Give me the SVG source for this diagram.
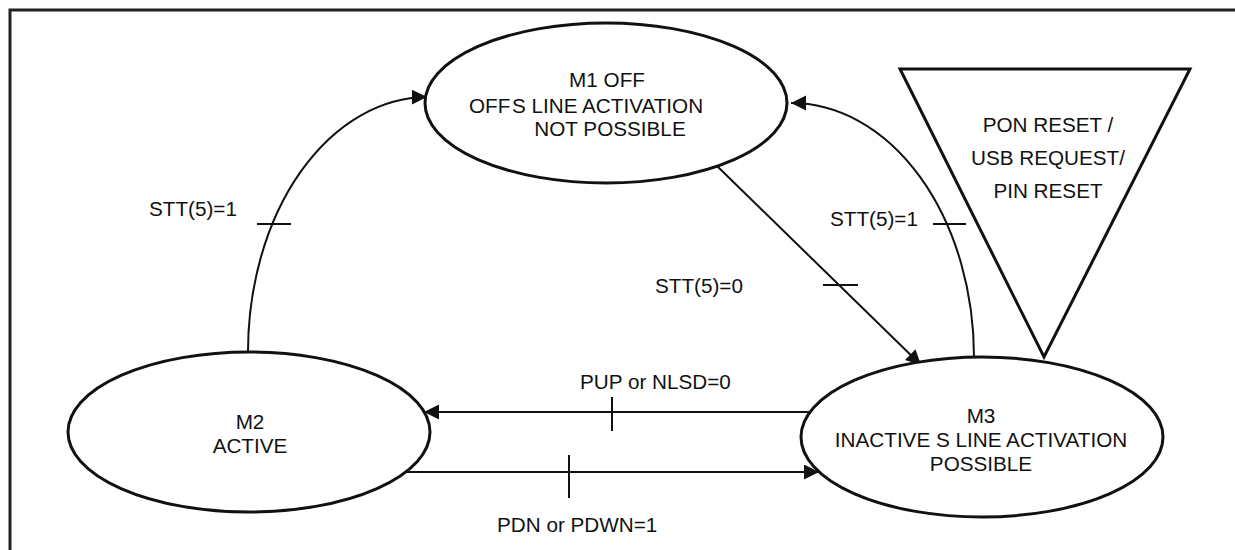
<svg xmlns="http://www.w3.org/2000/svg" width="1235" height="550" viewBox="0 0 1235 550">
<style>
.node{fill:#fff;stroke:#111;stroke-width:3}
.conn{fill:none;stroke:#111;stroke-width:2}
.tick{stroke:#111;stroke-width:2}
text{font-family:"Liberation Sans",Arial,sans-serif;font-size:20.7px;fill:#111}
.c{text-anchor:middle}
</style>
<defs>
<marker id="arr" markerUnits="userSpaceOnUse" markerWidth="16" markerHeight="16" refX="15" refY="7.5" orient="auto">
<path d="M0,0 L15,7.5 L0,15 z" fill="#111"/>
</marker>
</defs>
<rect width="1235" height="550" fill="#fff"/>
<path d="M10,550 V10 H1235" fill="none" stroke="#222" stroke-width="3"/>

<g id="connectors">
<path class="conn" d="M248,352 A180,255 0 0 1 427,97" marker-end="url(#arr)"/>
<line class="tick" x1="257" y1="224" x2="291" y2="224"/>
<text x="149" y="216">STT(5)=1</text>

<path class="conn" d="M717,166 L921,365" marker-end="url(#arr)"/>
<line class="tick" x1="823" y1="285" x2="858" y2="285"/>
<text x="655" y="293">STT(5)=0</text>

<path class="conn" d="M974,357 A183,254 0 0 0 791,103" marker-end="url(#arr)"/>
<line class="tick" x1="933" y1="224" x2="966" y2="224"/>
<text x="830" y="226">STT(5)=1</text>

<path class="conn" d="M809,412 L424,412" marker-end="url(#arr)"/>
<line class="tick" x1="612" y1="397" x2="612" y2="431"/>
<text x="580" y="389">PUP or NLSD=0</text>

<path class="conn" d="M406,472 L819,472" marker-end="url(#arr)"/>
<line class="tick" x1="569" y1="455" x2="569" y2="498"/>
<text x="497" y="532">PDN or PDWN=1</text>
</g>

<g id="M1">
<ellipse class="node" cx="606" cy="103" rx="181" ry="80"/>
<text class="c" x="607" y="87">M1 OFF</text>
<text x="469" y="113">OFF</text>
<text class="c" x="607.5" y="113">S LINE ACTIVATION</text>
<text class="c" x="610" y="136">NOT POSSIBLE</text>
</g>

<g id="M2">
<ellipse class="node" cx="249" cy="432" rx="181" ry="80"/>
<text class="c" x="250" y="429">M2</text>
<text class="c" x="250" y="453">ACTIVE</text>
</g>

<g id="M3">
<ellipse class="node" cx="982" cy="437" rx="181" ry="80"/>
<text class="c" x="981" y="423">M3</text>
<text class="c" x="981" y="447">INACTIVE S LINE ACTIVATION</text>
<text class="c" x="981" y="471">POSSIBLE</text>
</g>

<g id="reset">
<polygon class="node" points="900,69 1190,69 1044,357"/>
<text class="c" x="1048" y="132">PON RESET /</text>
<text class="c" x="1048" y="165">USB REQUEST/</text>
<text class="c" x="1048" y="198">PIN RESET</text>
</g>
</svg>
